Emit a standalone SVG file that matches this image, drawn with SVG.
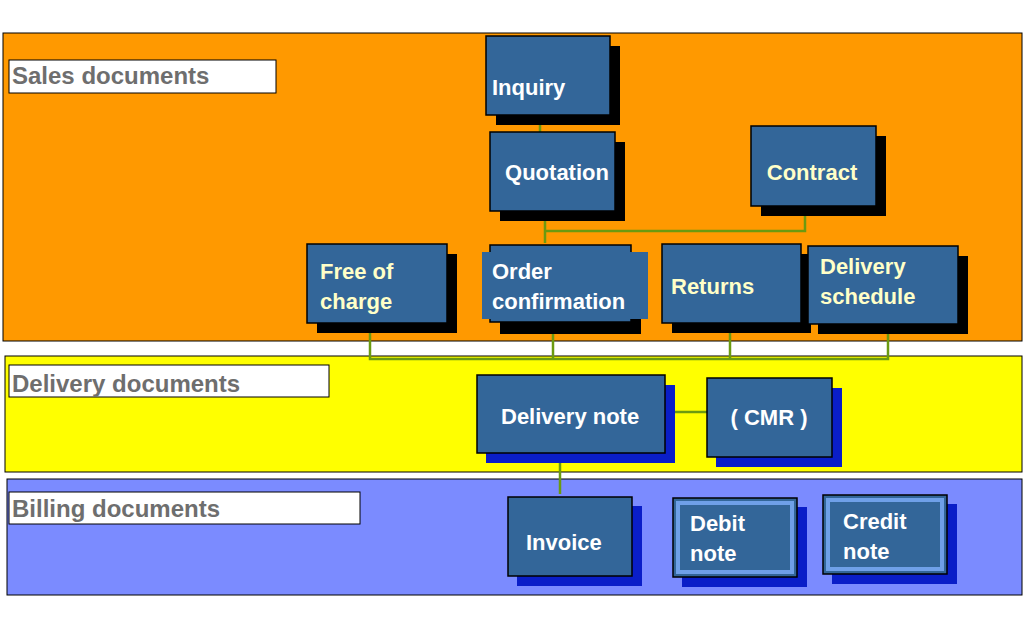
<svg xmlns="http://www.w3.org/2000/svg" width="1024" height="630" viewBox="0 0 1024 630">
<style>
.band{stroke:#000;stroke-width:1}
.lab{fill:#fff;stroke:#000;stroke-width:1}
.labt{font-family:"Liberation Sans",Arial,sans-serif;font-weight:bold;font-size:24px;fill:#6e6e6e}
.box{fill:#336699;stroke:#000;stroke-width:1.5}
.sh{fill:#000}
.shb{fill:#0a1ec8}
.t{font-family:"Liberation Sans",Arial,sans-serif;font-weight:bold;font-size:22px;fill:#fff}
.y{fill:#ffffc8}
.c{fill:none;stroke:#6b9a10;stroke-width:2.5}
.inner{fill:#336699;stroke:#6fa0e8;stroke-width:4}
</style>
<rect width="1024" height="630" fill="#fff"/>
<rect class="band" x="3" y="33" width="1019" height="308" fill="#ff9900"/>
<rect class="band" x="5" y="356" width="1017" height="116" fill="#ffff00"/>
<rect class="band" x="7" y="479" width="1015" height="116" fill="#7b8bff"/>
<rect class="lab" x="9" y="60" width="267" height="33"/><text class="labt" x="12" y="84">Sales documents</text>
<rect class="lab" x="9" y="365" width="320" height="32"/><text class="labt" x="12" y="392">Delivery documents</text>
<rect class="lab" x="9" y="492" width="351" height="32"/><text class="labt" x="12" y="517">Billing documents</text>
<g id="connectors">
<path class="c" d="M540 115V132"/>
<path class="c" d="M545 218V243M545 231H805V206"/>
<path class="c" d="M370 323V359H888V327M553 320V359M730 318V359"/>
<path class="c" d="M665 412H707"/>
<path class="c" d="M560 453V494"/>
</g>
<g id="inquiry"><rect class="sh" x="496" y="46" width="124" height="79"/><rect class="box" x="486" y="36" width="124" height="79"/><text class="t" x="492" y="95">Inquiry</text></g>
<g id="quotation"><rect class="sh" x="500" y="142" width="125" height="79"/><rect class="box" x="490" y="132" width="125" height="79"/><text class="t" x="557" y="180" text-anchor="middle">Quotation</text></g>
<g id="contract"><rect class="sh" x="761" y="136" width="125" height="80"/><rect class="box" x="751" y="126" width="125" height="80"/><text class="t y" x="812" y="180" text-anchor="middle">Contract</text></g>
<g id="free"><rect class="sh" x="317" y="254" width="140" height="79"/><rect class="box" x="307" y="244" width="140" height="79"/><text class="t y" x="320" y="279">Free of</text><text class="t y" x="320" y="309">charge</text></g>
<g id="order"><rect class="sh" x="500" y="255" width="141" height="79"/><rect class="box" x="490" y="245" width="141" height="77"/><rect x="482" y="252" width="166" height="67" fill="#336699"/><text class="t" x="492" y="279">Order</text><text class="t" x="492" y="309">confirmation</text></g>
<g id="returns"><rect class="sh" x="672" y="254" width="139" height="79"/><rect class="box" x="662" y="244" width="139" height="79"/><text class="t y" x="671" y="294">Returns</text></g>
<g id="schedule"><rect class="sh" x="818" y="256" width="150" height="78"/><rect class="box" x="808" y="246" width="150" height="78"/><text class="t y" x="820" y="274">Delivery</text><text class="t y" x="820" y="304">schedule</text></g>
<g id="delivery"><rect class="shb" x="486" y="385" width="189" height="78"/><rect class="box" x="477" y="375" width="188" height="78"/><text class="t" x="501" y="424">Delivery note</text></g>
<g id="cmr"><rect class="shb" x="716" y="388" width="126" height="79"/><rect class="box" x="707" y="378" width="125" height="79"/><text class="t" x="769" y="425" text-anchor="middle">( CMR )</text></g>
<g id="invoice"><rect class="shb" x="517" y="506" width="125" height="80"/><rect class="box" x="508" y="497" width="124" height="79"/><text class="t" x="526" y="550">Invoice</text></g>
<g id="debit"><rect class="shb" x="682" y="507" width="125" height="80"/><rect class="box" x="673" y="498" width="124" height="79"/><rect class="inner" x="678" y="503" width="114" height="69"/><text class="t" x="690" y="531">Debit</text><text class="t" x="690" y="561">note</text></g>
<g id="credit"><rect class="shb" x="832" y="504" width="125" height="80"/><rect class="box" x="823" y="495" width="124" height="79"/><rect class="inner" x="828" y="500" width="114" height="69"/><text class="t" x="843" y="529">Credit</text><text class="t" x="843" y="559">note</text></g>
</svg>
